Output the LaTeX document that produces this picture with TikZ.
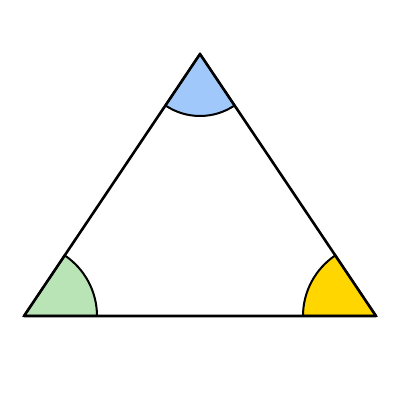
\documentclass[tikz,border=0pt]{standalone}
\begin{document}
\begin{tikzpicture}[x=1pt,y=1pt,
  edge/.style={draw=black,line width=2.6pt,line join=round},
  sector/.style={draw=black,line width=2pt}]
\useasboundingbox (0,0) rectangle (400,400);
\fill[white] (0,0) rectangle (400,400);
\coordinate (A) at (24,84);
\coordinate (B) at (376,84);
\coordinate (C) at (200,346);
\filldraw[sector,fill={rgb,255:red,185;green,228;blue,182}] (A) -- ++(0:73) arc[start angle=0,end angle=56.1,radius=73] -- cycle;
\filldraw[sector,fill={rgb,255:red,255;green,214;blue,0}] (B) -- ++(123.9:73) arc[start angle=123.9,end angle=180,radius=73] -- cycle;
\filldraw[sector,fill={rgb,255:red,160;green,200;blue,250}] (C) -- ++(236.1:62) arc[start angle=236.1,end angle=303.9,radius=62] -- cycle;
\draw[edge] (A) -- (B) -- (C) -- cycle;
\end{tikzpicture}
\end{document}
